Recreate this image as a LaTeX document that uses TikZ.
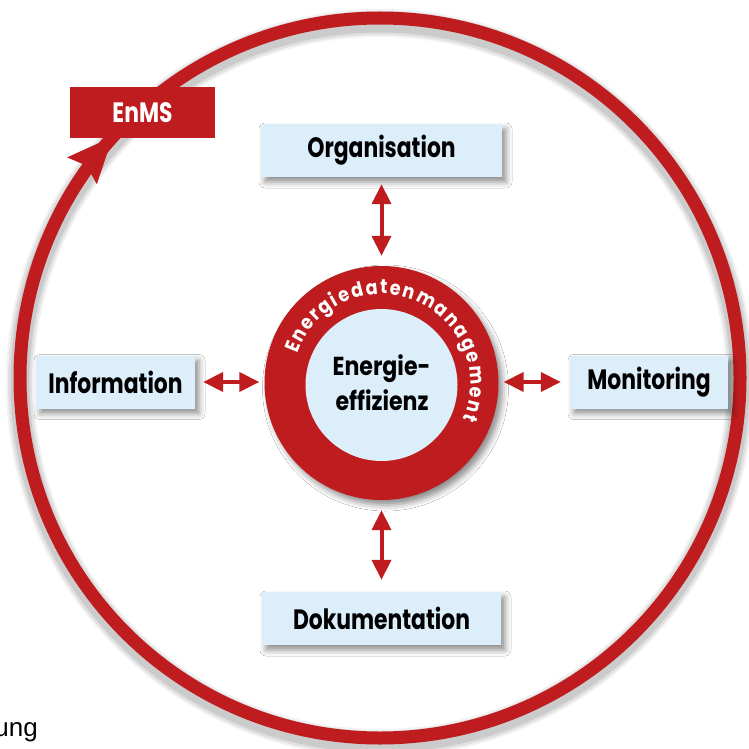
\documentclass[tikz,border=0pt]{standalone}
\usepackage{fontspec}
\usetikzlibrary{arrows.meta,shadows.blur,decorations.text}
\newfontfamily\lbl{Poppins}[FakeStretch=0.78]
\newfontfamily\clbl{Poppins}[FakeStretch=0.85]
\newfontfamily\ringlbl{Poppins}[FakeStretch=0.88]
\newfontfamily\capfont{Liberation Sans}
\definecolor{enred}{RGB}{190,28,30}
\definecolor{enblue}{RGB}{221,238,251}
\begin{document}
\begin{tikzpicture}[x=1pt,y=1pt,
  boxshadow/.style={blur shadow={shadow xshift=4pt, shadow yshift=-5pt, shadow opacity=45, shadow blur radius=6pt}},
  box/.style={fill=enblue, minimum height=53pt, inner sep=0pt, boxshadow,
    font=\lbl\bfseries\fontsize{28}{32}\selectfont, text=black},
  dbl/.style={draw=enred, line width=4pt, {Triangle[length=20pt,width=19pt]}-{Triangle[length=20pt,width=19pt]}},
  ctext/.style={font=\clbl\bfseries\fontsize{26}{30}\selectfont, anchor=base, inner sep=0pt, text=black},
]
\useasboundingbox (0,0) rectangle (749,-749);
\fill[white] (0,0) rectangle (749,-749);
% big ring
\coordinate (C) at (380,-378);
\foreach \w/\o in {28/0.05, 24/0.07, 19/0.09} \draw[black, opacity=\o, line width=\w pt] ([yshift=-5pt]C) circle[radius=360];
\draw[enred, line width=13pt] (C) circle[radius=360];
\begin{scope}[shift={(112.8,-136.7)}, rotate=47.9]
  \fill[enred] (0,0) -- (-46,20) -- (-39,0) -- (-46,-20) -- cycle;
\end{scope}
% EnMS label
\node[fill=enred, minimum width=145pt, minimum height=51pt, inner sep=0pt, text=white,
  font=\lbl\bfseries\fontsize{28}{32}\selectfont] (enms) at (142.5,-112.5) {EnMS};
% boxes
\node[box, minimum width=241pt] (org) at (381.5,-150.5) {Organisation};
\node[box, minimum width=159pt] (info) at (115.5,-382) {Information};
\node[box, minimum width=158pt] (mon) at (649,-382) {Monitoring};
\node[box, minimum width=239pt] (dok) at (381.5,-618.5) {Dokumentation};
% central disc
\node[circle, fill=enred, minimum size=234pt, inner sep=0pt, boxshadow] (disc) at (381.5,-383) {};
\node[circle, fill=enblue, minimum size=152pt, inner sep=0pt] (core) at (381.5,-385) {};
\node[ctext] (e1) at (381.5,-375) {Energie-};
\node[ctext] (e2) at (382,-410) {effizienz};
\path[decorate, decoration={text along path, text color=white,
   text={|\ringlbl\bfseries\fontsize{20}{24}\selectfont|Energiedatenmanagement},
   text align=fit to path}]
  (disc.center) ++(161:89) arc[start angle=161, end angle=-24, radius=89];
% double arrows
\draw[dbl] ([xshift=8pt]info.east) -- ([xshift=-5pt]info.east -| disc.west);
\draw[dbl] ([xshift=5pt]mon.west -| disc.east) -- ([xshift=-9pt]mon.west);
\draw[dbl] ([yshift=-7pt]org.south) -- ([yshift=10pt]disc.north);
\draw[dbl] ([yshift=-10pt]disc.south) -- ([yshift=12pt]dok.north);
% caption fragment
\node[font=\capfont\fontsize{26}{28}\selectfont, anchor=base east, inner sep=0pt] (cap) at (38,-736) {ung};
\end{tikzpicture}
\end{document}
